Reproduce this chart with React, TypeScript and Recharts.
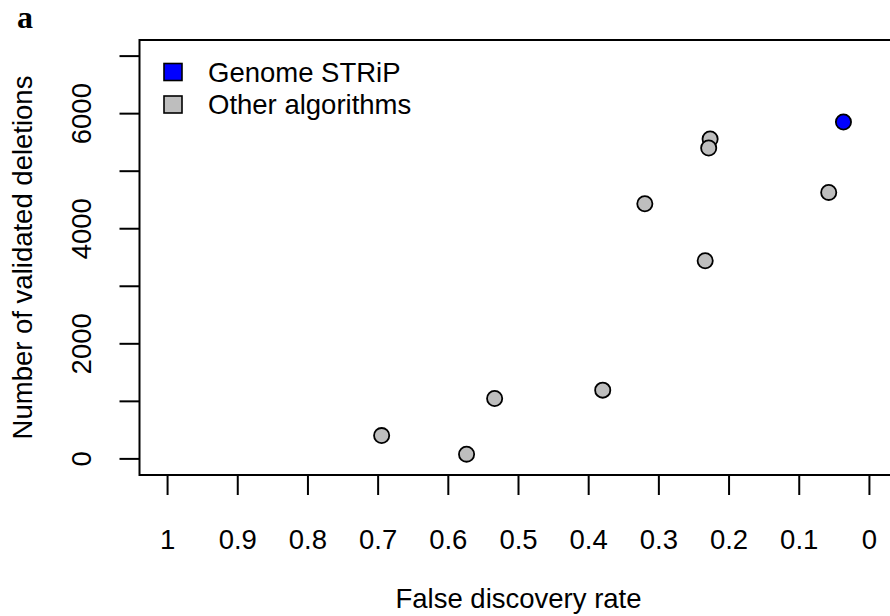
import React from 'react';
import {
  ReferenceArea,
  Scatter,
  ScatterChart,
  XAxis,
  YAxis
} from 'recharts';

// false discovery rate / validated deletions
const otherFdr = [0.695, 0.574, 0.534, 0.38, 0.32, 0.234, 0.227, 0.229, 0.058];
const otherDeletions = [405, 82, 1049, 1195, 4435, 3443, 5560, 5403, 4631];
const stripFdr = [0.037];
const stripDeletions = [5856];

const xTicks = [1, 0.9, 0.8, 0.7, 0.6, 0.5, 0.4, 0.3, 0.2, 0.1, 0];
const yTicks = [0, 1000, 2000, 3000, 4000, 5000, 6000, 7000];
const yLabelled = [0, 2000, 4000, 6000];

const otherData = otherFdr.map((fdr, i) => ({ fdr, n: otherDeletions[i] }));
const stripData = stripFdr.map((fdr, i) => ({ fdr, n: stripDeletions[i] }));

const FONT = '"Liberation Sans", Arial, Helvetica, sans-serif';
const FS = 27.5;

const dot = (fill: string) => (props: any) =>
  <circle cx={props.cx} cy={props.cy} r={7.6} fill={fill} stroke="#000" strokeWidth={1.8} />;

function YTick({ x, y, payload }: any) {
  if (!yLabelled.includes(payload.value)) return null;
  return (
    <text
      x={x}
      y={y}
      transform={`rotate(-90, ${x}, ${y})`}
      textAnchor="middle"
      fill="#000"
      fontSize={FS}
      fontFamily={FONT}
    >
      {payload.value}
    </text>
  );
}

export default function App() {
  return (
    <div
      style={{
        position: 'absolute',
        left: 0,
        top: 0,
        width: 890,
        height: 616,
        overflow: 'hidden',
        background: '#fff'
      }}
    >
      <ScatterChart
        width={910}
        height={616}
        margin={{ top: 40, right: 12.5, bottom: 41, left: 0 }}
        style={{ fontFamily: FONT }}
      >
        <XAxis
          type="number"
          dataKey="fdr"
          domain={[-0.04, 1.04]}
          reversed
          allowDataOverflow
          ticks={xTicks}
          interval={0}
          height={100}
          axisLine={false}
          tickSize={20}
          tickMargin={34}
          tickLine={{ stroke: '#000', strokeWidth: 2 }}
          tick={{ fill: '#000', fontSize: FS, fontFamily: FONT }}
        />
        <YAxis
          type="number"
          dataKey="n"
          domain={[-280, 7280]}
          allowDataOverflow
          ticks={yTicks}
          interval={0}
          width={139.5}
          axisLine={false}
          tickSize={20}
          tickMargin={28}
          tickLine={{ stroke: '#000', strokeWidth: 2 }}
          tick={<YTick />}
        />
        <ReferenceArea
          x1={-0.04}
          x2={1.04}
          y1={-280}
          y2={7280}
          fill="none"
          fillOpacity={0}
          stroke="#000"
          strokeWidth={2}
          ifOverflow="visible"
        />
        <Scatter
          name="Other algorithms"
          data={otherData}
          shape={dot('#bebebe')}
          isAnimationActive={false}
        />
        <Scatter
          name="Genome STRiP"
          data={stripData}
          shape={dot('#0000ff')}
          isAnimationActive={false}
        />
      </ScatterChart>
      <svg
        width={890}
        height={616}
        style={{ position: 'absolute', left: 0, top: 0, pointerEvents: 'none' }}
      >
        <text x={17} y={28} fontFamily='"Liberation Serif", "Times New Roman", serif' fontWeight="bold" fontSize={32} fill="#000">
          a
        </text>
        <text
          x={32}
          y={257.5}
          transform="rotate(-90, 32, 257.5)"
          textAnchor="middle"
          fontFamily={FONT}
          fontSize={FS}
          fill="#000"
        >
          Number of validated deletions
        </text>
        <text x={518.5} y={608} textAnchor="middle" fontFamily={FONT} fontSize={FS} fill="#000">
          False discovery rate
        </text>
        <rect x={164} y={63.5} width={18} height={17} fill="#0000ff" stroke="#000" strokeWidth={1.6} />
        <text x={208} y={82} fontFamily={FONT} fontSize={FS} fill="#000">
          Genome STRiP
        </text>
        <rect x={164} y={96} width={18} height={17} fill="#bebebe" stroke="#000" strokeWidth={1.6} />
        <text x={208} y={114} fontFamily={FONT} fontSize={FS} fill="#000">
          Other algorithms
        </text>
      </svg>
    </div>
  );
}
